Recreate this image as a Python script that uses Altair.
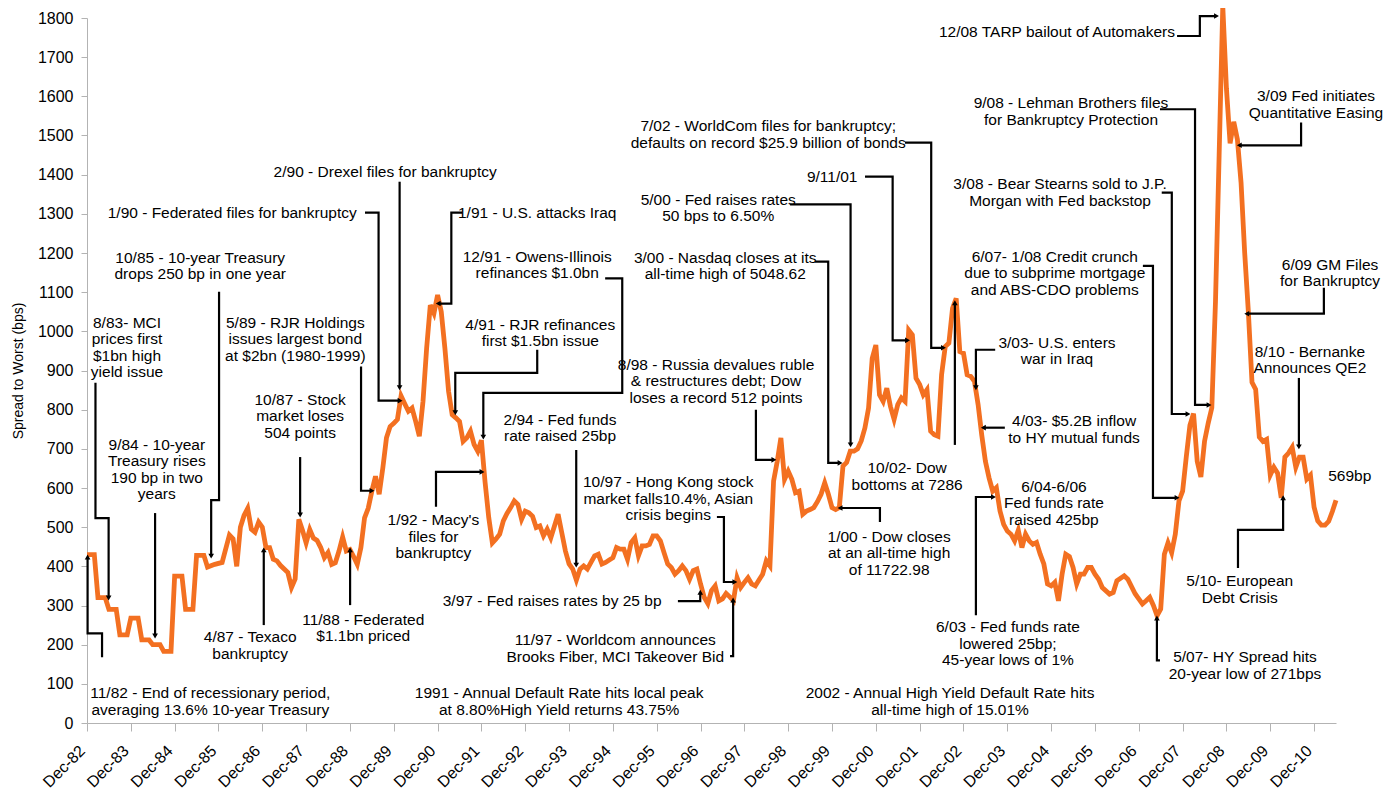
import altair as alt
import pandas as pd

# ---------------- data: high-yield spread to worst (bps), monthly ----------------
months = [
    "1982-12", "1983-02", "1983-03", "1983-05", "1983-06", "1983-08", "1983-09", "1983-11", "1983-12",
    "1984-02", "1984-03", "1984-05", "1984-06", "1984-08", "1984-09", "1984-11", "1984-12",
    "1985-02", "1985-03", "1985-05", "1985-06", "1985-08", "1985-09", "1985-11",
    "1986-01", "1986-03", "1986-04", "1986-05", "1986-06", "1986-07", "1986-08", "1986-09", "1986-10", "1986-11", "1986-12",
    "1987-01", "1987-02", "1987-03", "1987-04", "1987-05", "1987-07", "1987-08", "1987-09", "1987-10", "1987-11", "1987-12",
    "1988-01", "1988-02", "1988-03", "1988-04", "1988-05", "1988-06", "1988-07", "1988-08", "1988-09", "1988-10", "1988-11", "1988-12",
    "1989-01", "1989-02", "1989-03", "1989-04", "1989-05", "1989-06", "1989-07", "1989-08", "1989-09", "1989-10", "1989-11", "1989-12",
    "1990-01", "1990-02", "1990-03", "1990-04", "1990-05", "1990-06", "1990-07", "1990-08", "1990-09", "1990-10", "1990-11", "1990-12",
    "1991-01", "1991-02", "1991-03", "1991-04", "1991-05", "1991-06", "1991-07", "1991-08", "1991-09", "1991-10", "1991-11", "1991-12",
    "1992-01", "1992-02", "1992-03", "1992-04", "1992-05", "1992-06", "1992-07", "1992-08", "1992-09", "1992-10", "1992-11", "1992-12",
    "1993-01", "1993-02", "1993-03", "1993-04", "1993-05", "1993-06", "1993-07", "1993-08", "1993-09", "1993-10", "1993-11", "1993-12",
    "1994-01", "1994-02", "1994-03", "1994-04", "1994-05", "1994-06", "1994-07", "1994-08", "1994-09", "1994-10", "1994-11", "1994-12",
    "1995-01", "1995-02", "1995-03", "1995-04", "1995-05", "1995-06", "1995-07", "1995-08", "1995-09", "1995-10", "1995-11", "1995-12",
    "1996-01", "1996-02", "1996-03", "1996-04", "1996-05", "1996-06", "1996-07", "1996-08", "1996-09", "1996-10", "1996-11", "1996-12",
    "1997-01", "1997-02", "1997-03", "1997-04", "1997-05", "1997-06", "1997-07", "1997-08", "1997-09", "1997-10", "1997-11", "1997-12",
    "1998-01", "1998-02", "1998-03", "1998-04", "1998-05", "1998-06", "1998-07", "1998-08", "1998-09", "1998-10", "1998-11", "1998-12",
    "1999-01", "1999-02", "1999-03", "1999-04", "1999-05", "1999-06", "1999-07", "1999-08", "1999-09", "1999-10", "1999-11", "1999-12",
    "2000-01", "2000-02", "2000-03", "2000-04", "2000-05", "2000-06", "2000-07", "2000-08", "2000-09", "2000-10", "2000-11", "2000-12",
    "2001-01", "2001-02", "2001-03", "2001-04", "2001-05", "2001-06", "2001-07", "2001-08", "2001-09", "2001-10", "2001-11", "2001-12",
    "2002-01", "2002-02", "2002-03", "2002-04", "2002-05", "2002-06", "2002-07", "2002-08", "2002-09", "2002-10", "2002-11", "2002-12",
    "2003-01", "2003-02", "2003-03", "2003-04", "2003-05", "2003-06", "2003-07", "2003-08", "2003-09", "2003-10", "2003-11", "2003-12",
    "2004-01", "2004-02", "2004-03", "2004-04", "2004-05", "2004-06", "2004-07", "2004-08", "2004-09", "2004-10", "2004-11", "2004-12",
    "2005-01", "2005-02", "2005-03", "2005-04", "2005-05", "2005-06", "2005-07", "2005-08", "2005-09", "2005-10", "2005-11", "2005-12",
    "2006-01", "2006-02", "2006-04", "2006-05", "2006-06", "2006-08", "2006-09", "2006-11", "2006-12",
    "2007-01", "2007-02", "2007-03", "2007-04", "2007-05", "2007-06", "2007-07", "2007-08", "2007-09", "2007-10", "2007-11", "2007-12",
    "2008-01", "2008-02", "2008-03", "2008-04", "2008-05", "2008-06", "2008-07", "2008-08", "2008-09", "2008-10", "2008-11", "2008-12",
    "2009-01", "2009-02", "2009-03", "2009-04", "2009-05", "2009-06", "2009-07", "2009-08", "2009-09", "2009-10", "2009-11", "2009-12",
    "2010-01", "2010-02", "2010-03", "2010-04", "2010-05", "2010-06", "2010-07", "2010-08", "2010-09", "2010-10", "2010-11", "2010-12",
    "2011-01", "2011-02", "2011-03", "2011-04", "2011-05", "2011-06",
]
spread = [
    430, 430, 320, 320, 290, 290, 225, 225, 268,
    268, 212, 212, 200, 200, 183, 183, 375,
    375, 290, 290, 428, 428, 398, 405,
    410, 480, 470, 400, 500, 530, 548, 495, 487, 513, 500,
    448, 448, 418, 414, 402, 384, 346, 368, 520, 492, 460,
    494, 472, 466, 448, 422, 435, 405, 409, 439, 475, 439, 443,
    425, 405, 448, 524, 548, 592, 630, 584, 651, 728, 757, 765,
    775, 835, 815, 796, 804, 770, 732, 821, 957, 1067, 1046, 1093,
    1050, 957, 847, 787, 779, 770, 719, 728, 745, 711, 694, 722,
    615, 525, 460, 470, 482, 516, 535, 550, 567, 558, 520, 541,
    537, 528, 499, 503, 478, 495, 473, 503, 533, 486, 439, 406,
    393, 365, 393, 401, 393, 410, 427, 431, 406, 410, 416, 422,
    448, 444, 444, 418, 461, 473, 427, 452, 452, 456, 478, 478,
    465, 435, 406, 397, 380, 389, 401, 389, 367, 389, 393, 355,
    321, 305, 338, 350, 312, 317, 331, 322, 312, 371, 346, 359,
    371, 355, 350, 365, 380, 414, 401, 618, 668, 728, 622, 643,
    622, 588, 592, 533, 541, 545, 550, 565, 584, 613, 584, 550,
    545, 550, 656, 665, 694, 694, 700, 720, 753, 804, 931, 965,
    838, 821, 855, 808, 775, 813, 830, 821, 1003, 991, 880, 864,
    838, 851, 745, 736, 732, 889, 961, 970, 1059, 1084, 948, 944,
    889, 885, 872, 813, 735, 668, 626, 592, 601, 541, 507, 490,
    482, 465, 492, 448, 482, 465, 456, 461, 431, 406, 355, 350,
    359, 312, 380, 431, 425, 397, 355, 380, 380, 397, 397, 380,
    367, 346, 329, 333, 363, 376, 367, 330, 317,
    304, 312, 321, 300, 274, 291, 431, 460, 435, 482, 567, 592,
    679, 760, 790, 668, 628, 719, 765, 805, 1076, 1450, 1830, 1620,
    1480, 1535, 1490, 1380, 1200, 1050, 870, 852, 730, 719, 724, 633,
    653, 638, 575, 679, 689, 704, 653, 679, 679, 623, 633, 551,
    516, 505, 505, 515, 540, 569,
]

# x-axis ticks: December of each year 1982 ... 2010 (decimal years)
tick_years = list(range(1982, 2011))
y_ticks = list(range(0, 1801, 100))

# ---------------- annotations (decimal year, bps of the first text line) ----------------
ann_labels = [
    "11/82 - End of recessionary period,\naveraging 13.6% 10-year Treasury",
    "8/83- MCI\nprices first\n$1bn high\nyield issue",
    "9/84 - 10-year\nTreasury rises\n190 bp in two\nyears",
    "10/85 - 10-year Treasury\ndrops 250 bp in one year",
    "4/87 - Texaco\nbankruptcy",
    "10/87 - Stock\nmarket loses\n504 points",
    "11/88 - Federated\n$1.1bn priced",
    "5/89 - RJR Holdings\nissues largest bond\nat $2bn (1980-1999)",
    "1/90 - Federated files for bankruptcy",
    "2/90 - Drexel files for bankruptcy",
    "1/91 - U.S. attacks Iraq",
    "4/91 - RJR refinances\nfirst $1.5bn issue",
    "12/91 - Owens-Illinois\nrefinances $1.0bn",
    "1/92 - Macy's\nfiles for\nbankruptcy",
    "1991 - Annual Default Rate hits local peak\nat 8.80%High Yield returns 43.75%",
    "2/94 - Fed funds\nrate raised 25bp",
    "3/97 - Fed raises rates by 25 bp",
    "10/97 - Hong Kong stock\nmarket falls10.4%, Asian\ncrisis begins",
    "11/97 - Worldcom announces\nBrooks Fiber, MCI Takeover Bid",
    "8/98 - Russia devalues ruble\n& restructures debt; Dow\nloses a record 512 points",
    "1/00 -  Dow closes\nat an all-time high\nof 11722.98",
    "3/00 - Nasdaq closes at its\nall-time high  of 5048.62",
    "5/00 - Fed raises rates\n50 bps to 6.50%",
    "9/11/01",
    "7/02 - WorldCom files for bankruptcy;\ndefaults on record $25.9 billion of bonds",
    "10/02- Dow\nbottoms at 7286",
    "2002 - Annual High Yield Default Rate hits\nall-time high of 15.01%",
    "3/03- U.S. enters\nwar in Iraq",
    "4/03- $5.2B inflow\nto HY mutual funds",
    "6/03 - Fed funds rate\nlowered 25bp;\n45-year lows of 1%",
    "6/04-6/06\nFed funds rate\nraised 425bp",
    "5/07- HY Spread hits\n20-year low of 271bps",
    "6/07- 1/08 Credit crunch\ndue to subprime mortgage\nand ABS-CDO problems",
    "3/08 - Bear Stearns sold to J.P.\nMorgan with Fed backstop",
    "9/08 - Lehman Brothers files\nfor Bankruptcy Protection",
    "12/08 TARP bailout of Automakers",
    "3/09 Fed initiates\nQuantitative Easing",
    "6/09 GM Files\nfor Bankruptcy",
    "5/10- European\nDebt Crisis",
    "8/10 - Bernanke\nAnnounces QE2",
    "569bp",
]
ann_t = [
    1985.73, 1983.83, 1984.51, 1985.50, 1986.64, 1987.78, 1989.22, 1987.67, 1986.23, 1989.72,
    1993.19, 1993.26, 1993.19, 1990.82, 1993.69, 1993.71, 1993.53, 1996.18, 1994.97, 1997.27,
    2001.22, 1997.48, 1997.32, 1999.92, 1998.46, 2001.63, 2002.61, 2005.05, 2005.44, 2003.93,
    2004.98, 2009.34, 2005.00, 2005.12, 2005.37, 2005.05, 2010.96, 2011.28, 2009.22, 2010.82,
    2011.73,
]
ann_v = [
    76, 1022, 710, 1188, 219, 825, 263, 1022, 1303, 1408,
    1303, 1017, 1191, 518, 76, 774, 311, 615, 211, 915,
    475, 1188, 1336, 1395, 1523, 651, 76, 971, 770, 245,
    603, 168, 1191, 1375, 1582, 1763, 1600, 1170, 362, 948,
    631,
]

# leader lines: list of (decimal year, bps) vertices, arrowhead at the last vertex
leader_paths = [
    [(1983.26, 168), (1983.26, 229), (1982.93, 229), (1982.93, 424)],
    [(1983.11, 869), (1983.11, 523), (1983.41, 523), (1983.41, 319)],
    [(1984.47, 536), (1984.47, 222)],
    [(1985.93, 1101), (1985.93, 569), (1985.75, 569), (1985.75, 426)],
    [(1986.95, 250), (1986.95, 442)],
    [(1987.78, 679), (1987.78, 531)],
    [(1988.92, 301), (1988.92, 442)],
    [(1989.17, 910), (1989.17, 593), (1989.42, 593)],
    [(1989.26, 1303), (1989.57, 1303), (1989.57, 823), (1990.06, 823)],
    [(1990.05, 1382), (1990.05, 856)],
    [(1991.48, 1303), (1991.23, 1303), (1991.23, 1071), (1990.93, 1071)],
    [(1993.19, 953), (1993.19, 894), (1991.32, 894), (1991.32, 792)],
    [(1994.74, 1135), (1995.13, 1135), (1995.13, 843), (1991.96, 843), (1991.96, 730)],
    [(1990.88, 552), (1990.88, 641), (1991.93, 641)],
    [(1994.08, 697), (1994.08, 403)],
    [(1996.40, 311), (1996.91, 311), (1996.91, 334)],
    [(1997.29, 526), (1997.45, 526), (1997.45, 360), (1997.70, 360)],
    [(1997.59, 171), (1997.66, 171), (1997.66, 314)],
    [(1998.18, 800), (1998.18, 672), (1998.59, 672)],
    [(2001.01, 513), (2001.01, 549), (2000.10, 549)],
    [(1999.53, 1178), (1999.83, 1178), (1999.83, 664), (2000.10, 664)],
    [(1998.96, 1324), (2000.34, 1324), (2000.34, 710)],
    [(2000.67, 1395), (2001.30, 1395), (2001.30, 977), (2001.64, 977)],
    [(2001.58, 1482), (2002.18, 1482), (2002.18, 958), (2002.46, 958)],
    [(2002.72, 710), (2002.72, 1073)],
    [(2003.64, 953), (2003.20, 953), (2003.20, 856)],
    [(2003.86, 754), (2003.37, 754)],
    [(2003.20, 275), (2003.20, 577), (2003.60, 577)],
    [(2007.40, 160), (2007.33, 160), (2007.33, 268)],
    [(2007.01, 1167), (2007.24, 1167), (2007.24, 575), (2007.79, 575)],
    [(2007.44, 1354), (2007.67, 1354), (2007.67, 789), (2008.04, 789)],
    [(2007.40, 1567), (2008.20, 1567), (2008.20, 812), (2008.52, 812)],
    [(2007.79, 1754), (2008.31, 1754), (2008.31, 1805), (2008.69, 1805)],
    [(2010.62, 1533), (2010.62, 1475), (2009.21, 1475)],
    [(2011.14, 1111), (2011.14, 1045), (2009.38, 1045)],
    [(2009.18, 396), (2009.18, 493), (2010.21, 493), (2010.21, 575)],
    [(2010.57, 881), (2010.57, 705)],
]

# ---------------- build tables ----------------
df = pd.DataFrame({"month": months, "spread": spread})
df["t"] = df["month"].str[:4].astype(int) + (df["month"].str[5:7].astype(int) - 1) / 12.0
df["v"] = df["spread"]

ann_df = pd.DataFrame({"label": ann_labels, "t": ann_t, "v": ann_v})

lead_rows, arrow_rows = [], []
for i, path in enumerate(leader_paths):
    for k, (t, v) in enumerate(path):
        lead_rows.append({"id": i, "k": k, "t": t, "v": v})
    (t0, v0), (t1, v1) = path[-2], path[-1]
    if abs(t1 - t0) > 1e-9:
        ang = 90 if t1 > t0 else 270
    else:
        ang = 0 if v1 > v0 else 180
    arrow_rows.append({"t": t1, "v": v1, "angle": ang})
lead_df = pd.DataFrame(lead_rows)
arrow_df = pd.DataFrame(arrow_rows)

# ---------------- styling ----------------
FONT = "Liberation Sans, Arial, sans-serif"
ORANGE = "#F37021"
AXIS_GREY = "#b3b3b3"

x_scale = alt.Scale(domain=[1982 + 11 / 12, 2011 + 5 / 12], nice=False, zero=False)
y_scale = alt.Scale(domain=[0, 1800], nice=False)

x_axis = alt.Axis(
    values=[y + 11 / 12 for y in tick_years],
    labelExpr="'Dec-' + (floor(datum.value) % 100 < 10 ? '0' : '') + (floor(datum.value) % 100)",
    labelAngle=-45, labelAlign="right", labelBaseline="middle",
    labelFont=FONT, labelFontSize=16, labelColor="black", labelPadding=17, labelOffset=-5,
    labelOverlap=False, labelBound=False, tickSize=8, tickColor=AXIS_GREY, domainColor=AXIS_GREY,
    grid=False, title="",
)
y_axis = alt.Axis(
    values=y_ticks, format="d", labelFont=FONT, labelFontSize=16, labelColor="black",
    labelPadding=8, tickSize=6, tickColor=AXIS_GREY, domainColor=AXIS_GREY, grid=False,
    title="Spread to Worst (bps)", titleFont=FONT, titleFontSize=14, titleFontWeight="normal",
    titleColor="black", titlePadding=12,
)

X = alt.X("t:Q", scale=x_scale, axis=x_axis)
Y = alt.Y("v:Q", scale=y_scale, axis=y_axis)

line = alt.Chart(df).mark_line(color=ORANGE, strokeWidth=4.8, strokeJoin="miter").encode(x=X, y=Y)

leaders = alt.Chart(lead_df).mark_line(color="black", strokeWidth=2.2, strokeJoin="miter").encode(
    x=X, y=Y, detail="id:N", order="k:Q",
)

arrows = alt.Chart(arrow_df).mark_point(
    shape="triangle-up", filled=True, color="black", size=32, opacity=1
).encode(x=X, y=Y, angle=alt.Angle("angle:Q", scale=None))

texts = alt.Chart(ann_df).mark_text(
    font=FONT, fontSize=15.5, lineHeight=16.5, align="center", baseline="middle",
    lineBreak="\n", color="black",
).encode(x=X, y=Y, text="label:N")

chart = alt.layer(line, leaders, arrows, texts).properties(
    width=1249, height=705,
    padding={"left": 79, "top": 10, "right": 49, "bottom": 73},
    autosize=alt.AutoSizeParams(type="none"),
).configure_view(stroke=None)

chart.save("out.html", embed_options={"renderer": "svg", "actions": False})
